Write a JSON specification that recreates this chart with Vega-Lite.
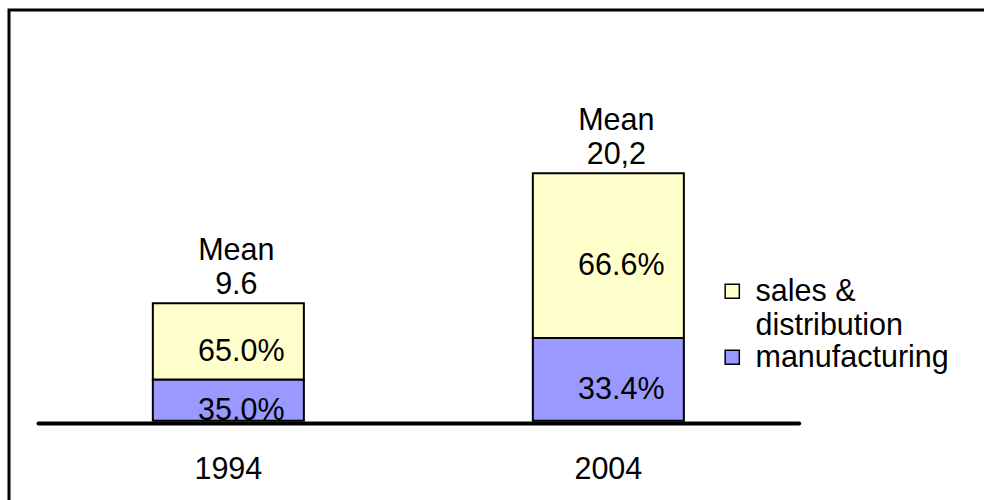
{
  "$schema": "https://vega.github.io/schema/vega-lite/v6.json",
  "autosize": "none",
  "padding": {"left": 9, "top": 10, "right": 0, "bottom": 0},
  "width": 1000,
  "height": 520,
  "background": "white",
  "config": {
    "view": {"stroke": "black", "strokeWidth": 3},
    "font": "Liberation Sans",
    "axisX": {
      "title": null,
      "orient": "bottom",
      "offset": -107,
      "domainColor": "black",
      "domainWidth": 4,
      "domainCap": "round",
      "ticks": false,
      "tickSize": 0,
      "grid": false,
      "labelFont": "Liberation Sans",
      "labelFontSize": 30.5,
      "labelColor": "black",
      "labelPadding": 55,
      "labelBaseline": "alphabetic",
      "labelAngle": 0
    }
  },
  "datasets": {
    "segments": [
      {"year": "1994", "segment": "manufacturing", "value": 3.36, "pct": "35.0%"},
      {"year": "1994", "segment": "sales & distribution", "value": 6.24, "pct": "65.0%"},
      {"year": "2004", "segment": "manufacturing", "value": 6.747, "pct": "33.4%"},
      {"year": "2004", "segment": "sales & distribution", "value": 13.453, "pct": "66.6%"}
    ],
    "means": [
      {"year": "1994", "mean": 9.6, "label": "9.6"},
      {"year": "2004", "mean": 20.2, "label": "20,2"}
    ]
  },
  "layer": [
    {
      "data": {"name": "segments"},
      "mark": {"type": "bar", "stroke": "black", "strokeWidth": 2},
      "encoding": {
        "x": {
          "field": "year",
          "type": "nominal",
          "title": null,
          "scale": {"range": [29, 789.7], "paddingInner": 0.6026, "paddingOuter": 0.3022}
        },
        "y": {
          "field": "value",
          "type": "quantitative",
          "stack": "zero",
          "scale": {"domain": [-8.92, 33.53], "nice": false, "zero": false},
          "axis": null
        },
        "color": {
          "field": "segment",
          "type": "nominal",
          "scale": {"domain": ["sales & distribution", "manufacturing"], "range": ["#FFFFCC", "#9999FF"]},
          "legend": {
            "title": null,
            "orient": "none",
            "legendX": 708,
            "legendY": 266,
            "padding": 0,
            "offset": 0,
            "symbolType": "square",
            "symbolSize": 200,
            "symbolStrokeColor": "black",
            "symbolStrokeWidth": 1.5,
            "labelFont": "Liberation Sans",
            "labelFontSize": 30.5,
            "labelColor": "black",
            "labelLimit": 0,
            "labelOffset": 8,
            "labelBaseline": "alphabetic",
            "rowPadding": -14,
            "labelExpr": "datum.label == 'sales & distribution' ? ['sales &', 'distribution'] : datum.label",
            "encode": {"labels": {"update": {"dy": {"value": 10}, "lineHeight": {"value": 34}}}}
          }
        },
        "order": {"field": "segment", "sort": "ascending"}
      }
    },
    {
      "data": {"name": "segments"},
      "transform": [
        {"stack": "value", "groupby": ["year"], "sort": [{"field": "segment", "order": "ascending"}], "as": ["v0", "v1"]},
        {"fold": ["v0", "v1"], "as": ["edge", "edgeValue"]}
      ],
      "mark": {"type": "text", "font": "Liberation Sans", "fontSize": 30.5, "color": "black", "baseline": "middle", "align": "center", "dx": 13, "dy": 10.5},
      "encoding": {
        "x": {"field": "year", "type": "nominal", "title": null},
        "y": {"field": "edgeValue", "aggregate": "mean", "type": "quantitative", "axis": null},
        "text": {"field": "pct", "type": "nominal"}
      }
    },
    {
      "data": {"name": "means"},
      "mark": {"type": "text", "font": "Liberation Sans", "fontSize": 30.5, "color": "black", "baseline": "alphabetic", "align": "center", "dx": 8, "dy": -9},
      "encoding": {
        "x": {"field": "year", "type": "nominal", "title": null},
        "y": {"field": "mean", "type": "quantitative", "axis": null},
        "text": {"field": "label", "type": "nominal"}
      }
    },
    {
      "data": {"name": "means"},
      "mark": {"type": "text", "font": "Liberation Sans", "fontSize": 30.5, "color": "black", "baseline": "alphabetic", "align": "center", "dx": 8, "dy": -43},
      "encoding": {
        "x": {"field": "year", "type": "nominal", "title": null},
        "y": {"field": "mean", "type": "quantitative", "axis": null},
        "text": {"value": "Mean"}
      }
    }
  ]
}
